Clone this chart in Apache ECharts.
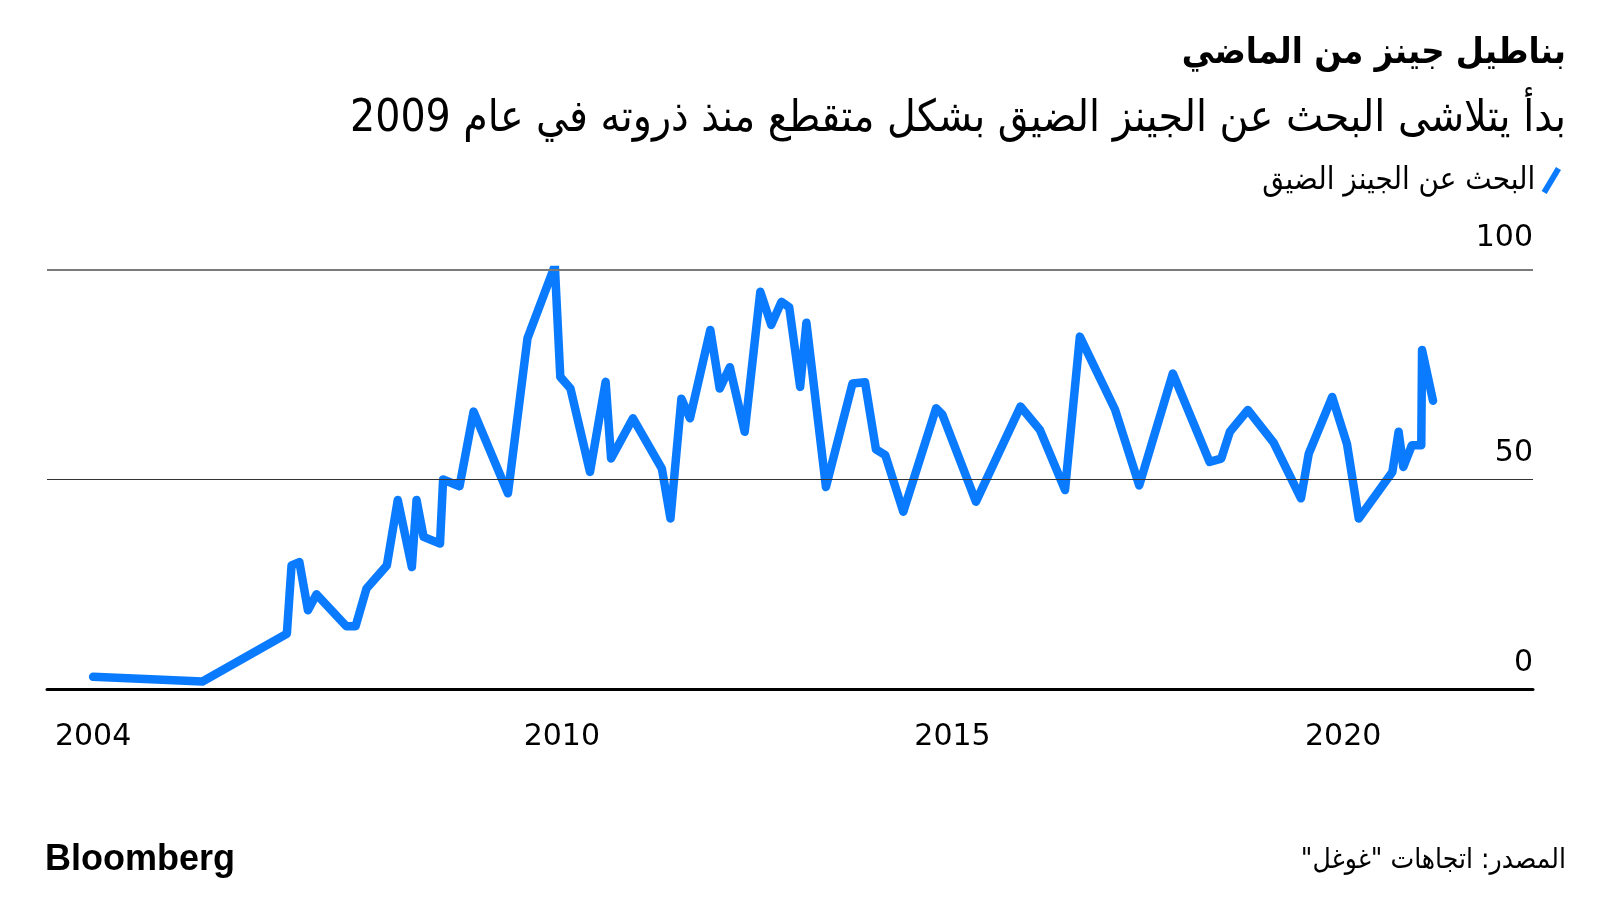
<!DOCTYPE html>
<html>
<head>
<meta charset="utf-8">
<script src="https://cdn.jsdelivr.net/npm/echarts@6/dist/echarts.min.js"></script>
<style>
  html, body { margin: 0; padding: 0; background: #fff; }
  #chart { width: 1600px; height: 900px; }
</style>
</head>
<body>
<div id="chart" dir="rtl"></div>
<script>
// Decimal-year positions of the line's vertices
const years = [
  2004.00, 2005.40, 2006.48, 2006.54, 2006.64, 2006.75, 2006.86, 2007.24, 2007.36, 2007.50,
  2007.76, 2007.90, 2008.08, 2008.14, 2008.23, 2008.44, 2008.48, 2008.69, 2008.87, 2009.31,
  2009.56, 2009.91, 2009.98, 2010.11, 2010.36, 2010.56, 2010.63, 2010.91, 2011.28, 2011.39,
  2011.53, 2011.64, 2011.90, 2012.02, 2012.15, 2012.34, 2012.54, 2012.68, 2012.81, 2012.91,
  2013.05, 2013.13, 2013.38, 2013.72, 2013.88, 2014.02, 2014.14, 2014.37, 2014.79, 2014.87,
  2015.30, 2015.87, 2016.12, 2016.44, 2016.63, 2017.08, 2017.39, 2017.82, 2018.29, 2018.44,
  2018.55, 2018.78, 2019.11, 2019.46, 2019.56, 2019.86, 2020.05, 2020.20, 2020.63, 2020.71,
  2020.77, 2020.88, 2021.00, 2021.01, 2021.15
];
// Search interest for skinny jeans (index, 0-100)
const searchValues = [
  2.9, 1.8, 13.2, 29.5, 30.3, 18.8, 22.6, 15.0, 15.0, 24.0,
  29.5, 45.1, 29.1, 45.1, 36.3, 34.7, 50.0, 48.4, 66.2, 46.7,
  83.7, 101.0, 74.5, 71.7, 51.8, 73.3, 55.0, 64.6, 52.6, 40.7,
  69.3, 64.6, 85.7, 71.7, 76.8, 61.4, 94.8, 86.9, 92.4, 91.1,
  72.1, 87.4, 48.2, 72.9, 73.2, 57.2, 55.8, 42.3, 67.0, 65.5,
  44.7, 67.4, 61.8, 47.5, 84.1, 66.7, 48.6, 75.3, 54.2, 55.0,
  61.4, 66.6, 58.8, 45.5, 56.2, 69.7, 58.4, 40.7, 51.8, 61.4,
  53.0, 58.2, 58.2, 80.9, 68.8
];
const xTickLabels = [2004, 2010, 2015, 2020];
const yTicks = [0, 50, 100];

const titleText = 'بناطيل جينز من الماضي';
const subtitleText = 'بدأ يتلاشى البحث عن الجينز الضيق بشكل متقطع منذ ذروته في عام 2009';
const seriesName = 'البحث عن الجينز الضيق';
const sourceText = 'المصدر: اتجاهات "غوغل"';
const brandText = 'Bloomberg';

const BLUE = '#0a7bff';
const AR_FONT = '"DejaVu Sans Condensed", "DejaVu Sans", sans-serif';
const NUM_FONT = '"DejaVu Sans", sans-serif';
const BRAND_FONT = '"Liberation Sans", Arial, sans-serif';

const chart = echarts.init(document.getElementById('chart'), null, { renderer: 'canvas' });

const option = {
  backgroundColor: '#ffffff',
  animation: false,
  title: [
    {
      text: titleText, right: 34, top: 36, padding: 0,
      textStyle: { fontFamily: AR_FONT, fontWeight: 'bold', fontSize: 36, color: '#000' }
    },
    {
      text: subtitleText, right: 34, top: 98, padding: 0,
      textStyle: { fontFamily: AR_FONT, fontWeight: 'normal', fontSize: 44, color: '#000' }
    },
    {
      text: sourceText, right: 34, top: 847, padding: 0,
      textStyle: { fontFamily: AR_FONT, fontWeight: 'normal', fontSize: 28, color: '#000' }
    },
    {
      text: brandText, left: 45, top: 842, padding: 0,
      textStyle: { fontFamily: BRAND_FONT, fontWeight: 'bold', fontSize: 36, color: '#000' }
    }
  ],
  legend: {
    right: 39, top: 165, padding: 0,
    align: 'right',
    itemWidth: 22, itemHeight: 27,
    icon: 'path://M0.9,21.7 L12.9,1.7 L17.1,4.3 L5.1,24.3 Z',
    textStyle: { fontFamily: AR_FONT, fontSize: 31, color: '#000' },
    data: [{ name: seriesName, itemStyle: { color: BLUE } }]
  },
  grid: { left: 47, right: 67, top: 270, bottom: 211, containLabel: false },
  xAxis: {
    type: 'value',
    min: 2003.41, max: 2022.43,
    axisLine: { show: true, lineStyle: { color: '#000', width: 3 } },
    axisTick: { show: false },
    splitLine: { show: false },
    axisLabel: {
      customValues: xTickLabels,
      formatter: v => String(v),
      margin: 33,
      fontFamily: NUM_FONT, fontSize: 30, color: '#000'
    }
  },
  yAxis: {
    type: 'value',
    position: 'right',
    min: 0, max: 100,
    axisLabel: {
      customValues: yTicks,
      inside: true, margin: 0,
      verticalAlign: 'bottom',
      lineHeight: 52,
      formatter: v => (v === 100 ? '{top|' + v + '}' : '{n|' + v + '}'),
      rich: {
        n: { lineHeight: 52, fontFamily: NUM_FONT, fontSize: 30, color: '#000' },
        top: { lineHeight: 64, fontFamily: NUM_FONT, fontSize: 30, color: '#000' }
      },
      fontFamily: NUM_FONT, fontSize: 30, color: '#000'
    },
    axisLine: { show: false },
    axisTick: { show: false },
    splitLine: { show: false }
  },
  series: [
    {
      name: seriesName,
      type: 'line',
      data: years.map((y, i) => [y, searchValues[i]]),
      showSymbol: false,
      symbol: 'none',
      lineStyle: { color: BLUE, width: 8.5, cap: 'round', join: 'round' },
      itemStyle: { color: BLUE },
      z: 2,
      markLine: {
        silent: true,
        symbol: ['none', 'none'],
        label: { show: false },
        z: 3,
        data: [
          { yAxis: 50, lineStyle: { color: '#333333', width: 1.2, type: 'solid' } },
          { yAxis: 100, lineStyle: { color: '#7a7a7a', width: 2, type: 'solid' } }
        ]
      }
    }
  ]
};

chart.setOption(option);
</script>
</body>
</html>
